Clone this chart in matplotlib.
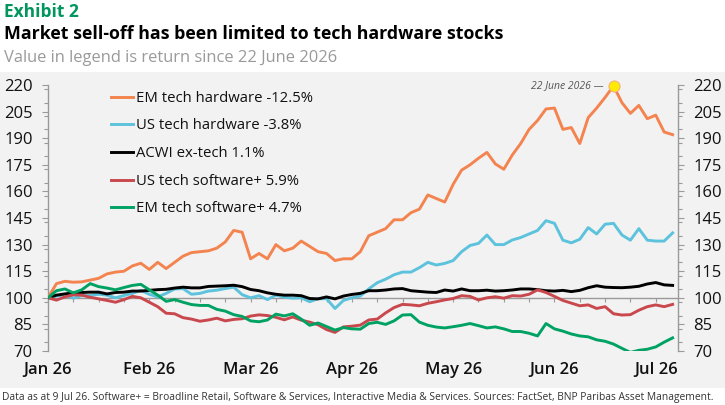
import numpy as np
import matplotlib
matplotlib.use("Agg")
import matplotlib.pyplot as plt
from matplotlib.patches import Rectangle
from matplotlib.ticker import MultipleLocator

plt.rcParams["font.family"] = ["Open Sans", "DejaVu Sans"]

# data: rebased index (Jan 26 = 100), sampled 12 times per month
steps_per_month = 12

em_hw = [100, 108, 109.3, 108.8, 109, 110, 111, 113.5, 114.5, 115, 118, 119.5, 116, 120, 116.5,
         120, 123.5, 125.5, 126, 126.5, 128, 131.5, 138, 137, 122, 125, 122, 130, 126.5, 128,
         132, 129, 126, 125, 121, 122, 122, 126, 135, 137, 139, 144, 144, 148, 150, 158, 156,
         154, 164, 172, 175, 178.7, 182, 175.5, 172.5, 180.5, 187, 195, 200, 206.5, 207, 195,
         196, 187, 201.6, 207, 213, 219.5, 210, 204, 208.5, 201, 203, 193.5, 192]

us_hw = [100, 101, 101.8, 99.8, 101.2, 101.3, 102, 101.5, 100, 101.3, 102.5, 104.2, 102, 100.5,
         102.5, 105, 105.2, 102, 102.5, 103.8, 104.3, 105.2, 106, 101.8, 100, 101.2, 99, 101.5,
         100.3, 99.8, 100, 97.8, 99.5, 99.5, 94, 98.5, 100, 101, 105, 108.5, 110.5, 113, 114.5,
         114.5, 117, 120, 118.5, 119.4, 121, 126, 129.5, 130.7, 135.4, 130, 130, 132.6, 134, 136,
         138, 143.5, 142, 132.5, 131, 133, 139.6, 136, 141.5, 142, 135.4, 132.5, 139, 132.5, 132,
         132, 136.6]

acwi_ex = [100, 101.5, 102.2, 102.8, 103, 103.2, 103.2, 102.2, 103, 103.2, 103.8, 103.8, 104.2,
           104.6, 104.8, 105.5, 106, 105.6, 105.6, 106.4, 106.6, 106.8, 107.1, 106.3, 104.7, 104,
           102.8, 102, 101.5, 101.5, 101.2, 99.6, 99.4, 100.5, 99.4, 101, 101.9, 102.5, 104, 104,
           104.4, 105, 105.2, 104, 103.6, 103.2, 103, 104.4, 103.8, 105, 104, 104, 104.3, 103.8,
           104, 104.4, 105, 105, 104.6, 104, 103.8, 104.2, 103.5, 104.2, 105.7, 106.8, 106, 105.8,
           105.7, 106, 106.5, 107.8, 108.6, 107.3, 107]

us_sw = [100, 98.7, 100.5, 101.7, 101.5, 100.3, 99.4, 98.5, 97.5, 99, 100.8, 100, 97.5, 95, 91.3,
         91, 88.8, 88, 86.8, 87.5, 88.5, 87, 87.8, 88.2, 89.7, 90.4, 90, 89, 87.6, 89.2, 87.4,
         86.3, 84.8, 82.1, 80.5, 83.6, 84, 84.6, 87.5, 88, 91.5, 94.5, 96.3, 96, 95.5, 96.9, 97.8,
         98.8, 99.6, 101.2, 100.8, 98.8, 100, 100.6, 99.8, 101.2, 101, 102, 104.5, 103, 100.8,
         98.5, 97, 95.5, 96, 94, 95, 91, 90.3, 90.5, 93, 95, 96, 95, 96.3]

em_sw = [100, 104, 105, 102.8, 104.5, 108, 106.3, 105.5, 104.5, 105.8, 107, 107.6, 104.5, 101.5,
         98, 99, 97.5, 96.2, 95.7, 95.7, 93.5, 92.5, 90.5, 89.5, 87, 86.5, 87.5, 90.8, 89.8, 91,
         88, 84.5, 85.8, 83.8, 81.8, 83.2, 82.5, 82.3, 85.5, 86.2, 85, 87, 90.3, 90.5, 86.3, 84.5,
         83.5, 83, 83.7, 84.5, 85.5, 84.3, 83, 83.6, 82.5, 81, 81, 80, 78.5, 85.5, 82.5, 81.2,
         79.6, 78.5, 78, 76.3, 75.5, 73.9, 71.5, 69.2, 70.4, 71, 72.3, 75, 77.4]

series_labels = ["EM tech hardware -12.5%", "US tech hardware -3.8%", "ACWI ex-tech 1.1%",
                 "US tech software+ 5.9%", "EM tech software+ 4.7%"]
series_colors = ["#F4844F", "#5DC2DC", "#000000", "#C9484D", "#00A264"]

month_labels = ["Jan 26", "Feb 26", "Mar 26", "Apr 26", "May 26", "Jun 26", "Jul 26"]
y_ticks = [70, 85, 100, 115, 130, 145, 160, 175, 190, 205, 220]
peak_index = 67
peak_label = "22 June 2026"

fig = plt.figure(figsize=(7.25, 4.05), dpi=100)
fig.patches.append(Rectangle((0, 0.042), 1, 0.78, transform=fig.transFigure,
                             facecolor="#F2F2F2", edgecolor="none", zorder=-10))

ax = fig.add_axes([0.0662, 0.1333, 0.869, 0.6568])
ax.set_facecolor("none")

x = np.arange(len(em_hw)) / steps_per_month
all_series = [em_hw, us_hw, acwi_ex, us_sw, em_sw]
for vals, lab, col in zip(all_series, series_labels, series_colors):
    ax.plot(x[:len(vals)], vals, color=col, lw=2.1, label=lab, zorder=3)

# peak marker
ax.plot(x[peak_index], em_hw[peak_index], "o", ms=8, mfc="#FFEB00", mec="#F4B183",
        mew=0.8, zorder=5, clip_on=False)
ax.annotate(peak_label + " \u2014", (x[peak_index], em_hw[peak_index]),
            xytext=(-7, 0), textcoords="offset points", ha="right", va="center",
            fontsize=7.5, style="italic", color="#555555")

ax.set_xlim(0, 6.22)
ax.set_ylim(70, 220)

ax.spines["top"].set_visible(False)
for side in ["left", "right"]:
    ax.spines[side].set_color("#9A9A9A")
    ax.spines[side].set_linewidth(1)
ax.spines["bottom"].set_position(("data", 100))
ax.spines["bottom"].set_color("#9A9A9A")
ax.spines["bottom"].set_linewidth(1)

ax.set_yticks(y_ticks)
ax.yaxis.set_minor_locator(MultipleLocator(7.5))
ax.tick_params(axis="y", which="both", left=True, right=True, labelleft=True,
               labelright=True, direction="out", length=4, width=0.8, color="#9A9A9A",
               labelsize=12, pad=7, labelcolor="#111111")
ax.tick_params(axis="y", which="minor", length=3)

ax.set_xticks(range(len(month_labels)))
ax.xaxis.set_minor_locator(MultipleLocator(0.25))
ax.tick_params(axis="x", which="both", direction="out", length=3, width=0.8,
               color="#9A9A9A", labelbottom=False)
for i, lab in enumerate(month_labels):
    ax.text(i, -0.07, lab, transform=ax.get_xaxis_transform(), ha="center", va="center",
            fontsize=12, fontweight="semibold", color="#111111")

leg = ax.legend(loc="upper left", bbox_to_anchor=(0.1, 0.978), frameon=False, fontsize=10.7,
                handlelength=1.5, handletextpad=0.2, labelspacing=0.85, borderpad=0,
                borderaxespad=0)
for t in leg.get_texts():
    t.set_color("#111111")

fig.text(0.006, 0.958, "Exhibit 2", fontsize=12.5, fontweight="bold", color="#00965E")
fig.text(0.006, 0.903, "Market sell-off has been limited to tech hardware stocks",
         fontsize=12.8, fontweight="bold", color="#000000")
fig.text(0.006, 0.848, "Value in legend is return since 22 June 2026", fontsize=11.9,
         color="#9A9A9A")
fig.text(0.003, 0.012, "Data as at 9 Jul 26. Software+ = Broadline Retail, Software & Services, "
         "Interactive Media & Services. Sources: FactSet, BNP Paribas Asset Management.",
         fontsize=7.35, color="#333333")

fig.savefig("out.png", dpi=100)
